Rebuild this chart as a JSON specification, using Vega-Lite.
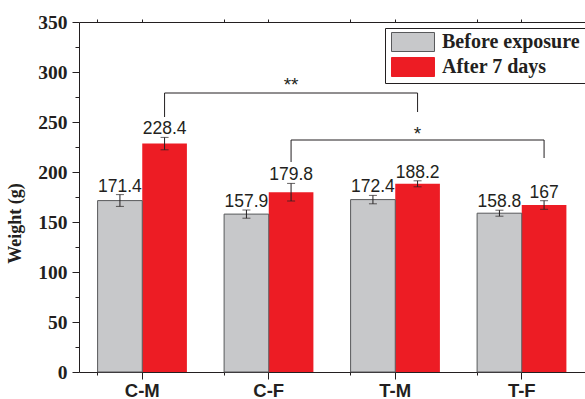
{
  "$schema": "https://vega.github.io/schema/vega-lite/v6.json",
  "autosize": {"type": "none"},
  "padding": {"left": 79, "top": 22, "right": 0, "bottom": 27},
  "width": 506,
  "height": 350,
  "background": "white",
  "config": {"view": {"stroke": null}},
  "datasets": {
    "bars": [
      {"cat": "C-M", "grp": "Before exposure", "value": 171.4, "lo": 165.6, "hi": 177.4},
      {"cat": "C-M", "grp": "After 7 days", "value": 228.4, "lo": 222.2, "hi": 234.6},
      {"cat": "C-F", "grp": "Before exposure", "value": 157.9, "lo": 153.8, "hi": 162.0},
      {"cat": "C-F", "grp": "After 7 days", "value": 179.8, "lo": 171.0, "hi": 188.6},
      {"cat": "T-M", "grp": "Before exposure", "value": 172.4, "lo": 168.2, "hi": 176.6},
      {"cat": "T-M", "grp": "After 7 days", "value": 188.2, "lo": 185.2, "hi": 191.2},
      {"cat": "T-F", "grp": "Before exposure", "value": 158.8, "lo": 155.8, "hi": 161.8},
      {"cat": "T-F", "grp": "After 7 days", "value": 167, "lo": 162.7, "hi": 171.3}
    ],
    "brackets": [
      {"b": 1, "o": 1, "cat": "C-M", "grp": "After 7 days", "y": 255},
      {"b": 1, "o": 2, "cat": "C-M", "grp": "After 7 days", "y": 279},
      {"b": 1, "o": 3, "cat": "T-M", "grp": "After 7 days", "y": 279},
      {"b": 1, "o": 4, "cat": "T-M", "grp": "After 7 days", "y": 260},
      {"b": 2, "o": 1, "cat": "C-F", "grp": "After 7 days", "y": 210},
      {"b": 2, "o": 2, "cat": "C-F", "grp": "After 7 days", "y": 232},
      {"b": 2, "o": 3, "cat": "T-F", "grp": "After 7 days", "y": 232},
      {"b": 2, "o": 4, "cat": "T-F", "grp": "After 7 days", "y": 214}
    ],
    "sig": [
      {"cat": "C-F", "grp": "After 7 days", "y": 281.5, "label": "**"},
      {"cat": "T-M", "grp": "After 7 days", "y": 232.5, "label": "*"}
    ]
  },
  "resolve": {"axis": {"x": "independent", "y": "independent"}},
  "layer": [
    {
      "data": {"name": "bars"},
      "mark": {"type": "bar"},
      "encoding": {
        "x": {"field": "cat", "type": "nominal", "sort": ["C-M", "C-F", "T-M", "T-F"],
          "scale": {"paddingInner": 0.294, "paddingOuter": 0.147},
          "axis": {"orient": "bottom", "title": null, "labelAngle": 0, "domainColor": "#231f20", "tickColor": "#231f20", "tickSize": 7,
            "labelFont": "Liberation Sans", "labelFontWeight": "bold", "labelFontSize": 18.5, "labelColor": "#231f20", "labelPadding": 2}},
        "xOffset": {"field": "grp", "type": "nominal", "sort": ["Before exposure", "After 7 days"], "scale": {"paddingInner": 0, "paddingOuter": 0}},
        "y": {"field": "value", "type": "quantitative", "scale": {"domain": [0, 350], "nice": false},
          "axis": {"orient": "left", "title": "Weight (g)", "values": [0, 50, 100, 150, 200, 250, 300, 350], "grid": false,
            "domainColor": "#231f20", "tickColor": "#231f20", "tickSize": 7, "labelPadding": 5,
            "labelFont": "Liberation Serif", "labelFontWeight": "bold", "labelFontSize": 19.5, "labelColor": "#231f20",
            "titleFont": "Liberation Serif", "titleFontWeight": "bold", "titleFontSize": 18, "titleColor": "#231f20",
            "titleX": -55, "titleY": 201, "titleBaseline": "bottom"}},
        "color": {"field": "grp", "type": "nominal", "sort": ["Before exposure", "After 7 days"],
          "scale": {"range": ["#c7c8ca", "#ed1c24"]},
          "legend": {"orient": "none", "legendX": 306, "legendY": 6, "title": "\u00a0", "titleOrient": "right", "titlePadding": 14, "titleFontSize": 12,
            "strokeColor": "#231f20", "padding": 4, "fillColor": "white",
            "labelFont": "Liberation Serif", "labelFontWeight": "bold", "labelFontSize": 20, "labelColor": "#231f20",
            "symbolType": "M-2.263,-1H2.263V1H-2.263Z", "symbolSize": 361, "symbolOffset": 14, "symbolOpacity": 1,
            "labelOffset": 19, "rowPadding": 1,
            "encode": {"symbols": {"update": {"stroke": {"signal": "(datum.index === 0 || datum.value === 'Before exposure' || datum.label === 'Before exposure') ? '#58595b' : '#ed1c24'"}, "strokeWidth": {"value": 1}}}}}}
      }
    },
    {
      "data": {"name": "bars"},
      "transform": [{"filter": "datum.grp === 'Before exposure'"}],
      "mark": {"type": "bar", "filled": false, "stroke": "#58595b", "strokeWidth": 1},
      "encoding": {
        "x": {"field": "cat", "type": "nominal", "sort": ["C-M", "C-F", "T-M", "T-F"], "axis": null},
        "xOffset": {"field": "grp", "type": "nominal", "sort": ["Before exposure", "After 7 days"]},
        "y": {"field": "value", "type": "quantitative", "axis": null}
      }
    },
    {
      "data": {"name": "bars"},
      "mark": {"type": "rule", "color": "#231f20", "strokeWidth": 1},
      "encoding": {
        "x": {"field": "cat", "type": "nominal", "sort": ["C-M", "C-F", "T-M", "T-F"],
          "axis": {"orient": "bottom", "title": null, "labels": false, "domain": false, "bandPosition": 0, "tickSize": 3, "tickColor": "#231f20"}},
        "xOffset": {"field": "grp", "type": "nominal", "sort": ["Before exposure", "After 7 days"]},
        "y": {"field": "lo", "type": "quantitative",
          "axis": {"orient": "left", "title": null, "labels": false, "domain": false, "grid": false, "values": [25, 75, 125, 175, 225, 275, 325], "tickSize": 4, "tickColor": "#231f20"}},
        "y2": {"field": "hi"}
      }
    },
    {
      "data": {"name": "bars"},
      "mark": {"type": "tick", "color": "#231f20", "size": 8, "thickness": 1, "orient": "horizontal"},
      "encoding": {
        "x": {"field": "cat", "type": "nominal", "sort": ["C-M", "C-F", "T-M", "T-F"],
          "axis": {"orient": "top", "title": null, "labels": false, "domain": true, "domainColor": "#231f20", "tickSize": 3, "tickColor": "#231f20"}},
        "xOffset": {"field": "grp", "type": "nominal", "sort": ["Before exposure", "After 7 days"]},
        "y": {"field": "lo", "type": "quantitative", "axis": null}
      }
    },
    {
      "data": {"name": "bars"},
      "mark": {"type": "tick", "color": "#231f20", "size": 8, "thickness": 1, "orient": "horizontal"},
      "encoding": {
        "x": {"field": "cat", "type": "nominal", "sort": ["C-M", "C-F", "T-M", "T-F"],
          "axis": {"orient": "top", "title": null, "labels": false, "domain": false, "bandPosition": 0, "tickSize": 3, "tickColor": "#231f20"}},
        "xOffset": {"field": "grp", "type": "nominal", "sort": ["Before exposure", "After 7 days"]},
        "y": {"field": "hi", "type": "quantitative", "axis": null}
      }
    },
    {
      "data": {"name": "bars"},
      "mark": {"type": "text", "font": "Liberation Sans", "fontSize": 17.5, "color": "#231f20", "baseline": "alphabetic", "dy": -3},
      "encoding": {
        "x": {"field": "cat", "type": "nominal", "sort": ["C-M", "C-F", "T-M", "T-F"], "axis": null},
        "xOffset": {"field": "grp", "type": "nominal", "sort": ["Before exposure", "After 7 days"]},
        "y": {"field": "hi", "type": "quantitative", "axis": null},
        "text": {"field": "value", "type": "quantitative"}
      }
    },
    {
      "data": {"name": "brackets"},
      "mark": {"type": "line", "color": "#231f20", "strokeWidth": 1},
      "encoding": {
        "x": {"field": "cat", "type": "nominal", "sort": ["C-M", "C-F", "T-M", "T-F"], "axis": null},
        "xOffset": {"field": "grp", "type": "nominal", "sort": ["Before exposure", "After 7 days"]},
        "y": {"field": "y", "type": "quantitative", "axis": null},
        "detail": {"field": "b", "type": "nominal"},
        "order": {"field": "o", "type": "quantitative"}
      }
    },
    {
      "data": {"name": "sig"},
      "mark": {"type": "text", "font": "Liberation Sans", "fontSize": 19, "color": "#231f20", "baseline": "alphabetic"},
      "encoding": {
        "x": {"field": "cat", "type": "nominal", "sort": ["C-M", "C-F", "T-M", "T-F"], "axis": null},
        "xOffset": {"field": "grp", "type": "nominal", "sort": ["Before exposure", "After 7 days"]},
        "y": {"field": "y", "type": "quantitative", "axis": null},
        "text": {"field": "label", "type": "nominal"}
      }
    }
  ]
}
